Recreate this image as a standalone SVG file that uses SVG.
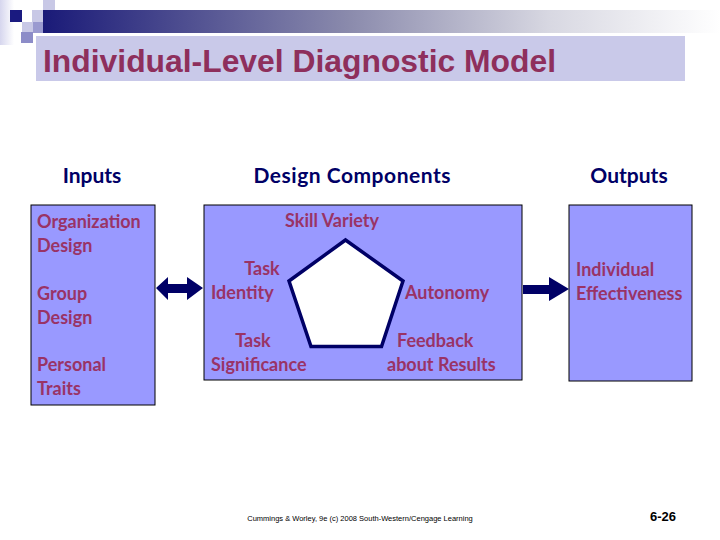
<svg xmlns="http://www.w3.org/2000/svg" width="720" height="540" viewBox="0 0 720 540">
<defs>
<linearGradient id="bar" x1="0" y1="0" x2="1" y2="0">
<stop offset="0" stop-color="#1a1a78"/>
<stop offset="0.45" stop-color="#8a8aac"/>
<stop offset="0.75" stop-color="#d8d8e2"/>
<stop offset="1" stop-color="#ffffff"/>
</linearGradient>
<linearGradient id="side" x1="0" y1="0" x2="1" y2="0">
<stop offset="0" stop-color="#d6d6ee"/>
<stop offset="1" stop-color="#ffffff"/>
</linearGradient>
<style>
.box{fill:#9999ff;stroke:#000;stroke-width:1}
.lbl{font-family:Lato,"Liberation Sans",sans-serif;font-weight:bold;font-size:18px;fill:#993366}
.hdr{font-family:Lato,"Liberation Sans",sans-serif;font-weight:bold;font-size:21px;fill:#000066}
.arr{fill:#000066}
</style>
</defs>
<rect width="720" height="540" fill="#fff"/>
<g id="decor">
<rect x="0" y="0" width="14" height="45" fill="url(#side)"/>
<rect x="43" y="10" width="677" height="23" fill="url(#bar)"/>
<rect x="10" y="10" width="12" height="12" fill="#1a1a80"/>
<rect x="32" y="10" width="11" height="12" fill="#c8c8e6"/>
<rect x="43" y="0" width="12" height="10" fill="#c8c8e6"/>
<rect x="22" y="22" width="11" height="10" fill="#c8c8e6"/>
<rect x="33" y="22" width="10" height="11" fill="#9a9ad0"/>
<rect x="21" y="32" width="12" height="11" fill="#8c8cc8"/>
</g>
<g id="title">
<rect x="36" y="36" width="649" height="45" fill="#c9c9e9"/>
<text x="43" y="72" font-family="Liberation Sans,Arial,sans-serif" font-size="31" font-weight="bold" fill="#8e2f5c" textLength="513" lengthAdjust="spacingAndGlyphs">Individual-Level Diagnostic Model</text>
</g>
<g id="headers">
<text class="hdr" x="92" y="183" text-anchor="middle">Inputs</text>
<text class="hdr" x="352" y="183" text-anchor="middle" textLength="197">Design Components</text>
<text class="hdr" x="629" y="183" text-anchor="middle">Outputs</text>
</g>
<g id="inputs">
<rect class="box" x="31" y="205" width="124" height="200"/>
<text class="lbl" x="37" y="228">Organization</text>
<text class="lbl" x="37" y="252">Design</text>
<text class="lbl" x="37" y="300">Group</text>
<text class="lbl" x="37" y="324">Design</text>
<text class="lbl" x="37" y="371">Personal</text>
<text class="lbl" x="37" y="395">Traits</text>
</g>
<g id="design-components">
<rect class="box" x="204" y="205" width="318" height="175"/>
<polygon points="345.5,240 403,281 381.5,346.5 311,346.5 289,281" fill="#fff" stroke="#000066" stroke-width="3.5" stroke-linejoin="miter"/>
<text class="lbl" x="332" y="227" text-anchor="middle">Skill Variety</text>
<text class="lbl" x="262" y="275" text-anchor="middle">Task</text>
<text class="lbl" x="211" y="299">Identity</text>
<text class="lbl" x="405" y="299">Autonomy</text>
<text class="lbl" x="253" y="347" text-anchor="middle">Task</text>
<text class="lbl" x="211" y="371">Significance</text>
<text class="lbl" x="397" y="347">Feedback</text>
<text class="lbl" x="387" y="371">about Results</text>
</g>
<g id="outputs">
<rect class="box" x="569" y="205" width="123" height="176"/>
<text class="lbl" x="576" y="276">Individual</text>
<text class="lbl" x="576" y="300">Effectiveness</text>
</g>
<g id="connectors">
<polygon class="arr" points="156,288 168,277 168,284 187,284 187,277 203,288 187,300 187,293 168,293 168,300"/>
<polygon class="arr" points="523,285 549,285 549,277 569,289 549,301 549,294 523,294"/>
</g>
<g id="footer">
<text x="360" y="521" text-anchor="middle" font-family="Liberation Sans,Arial,sans-serif" font-size="7.5" fill="#000">Cummings &amp; Worley, 9e (c) 2008 South-Western/Cengage Learning</text>
<text x="663" y="521" text-anchor="middle" font-family="Liberation Sans,Arial,sans-serif" font-weight="bold" font-size="13" fill="#000">6-26</text>
</g>
</svg>
